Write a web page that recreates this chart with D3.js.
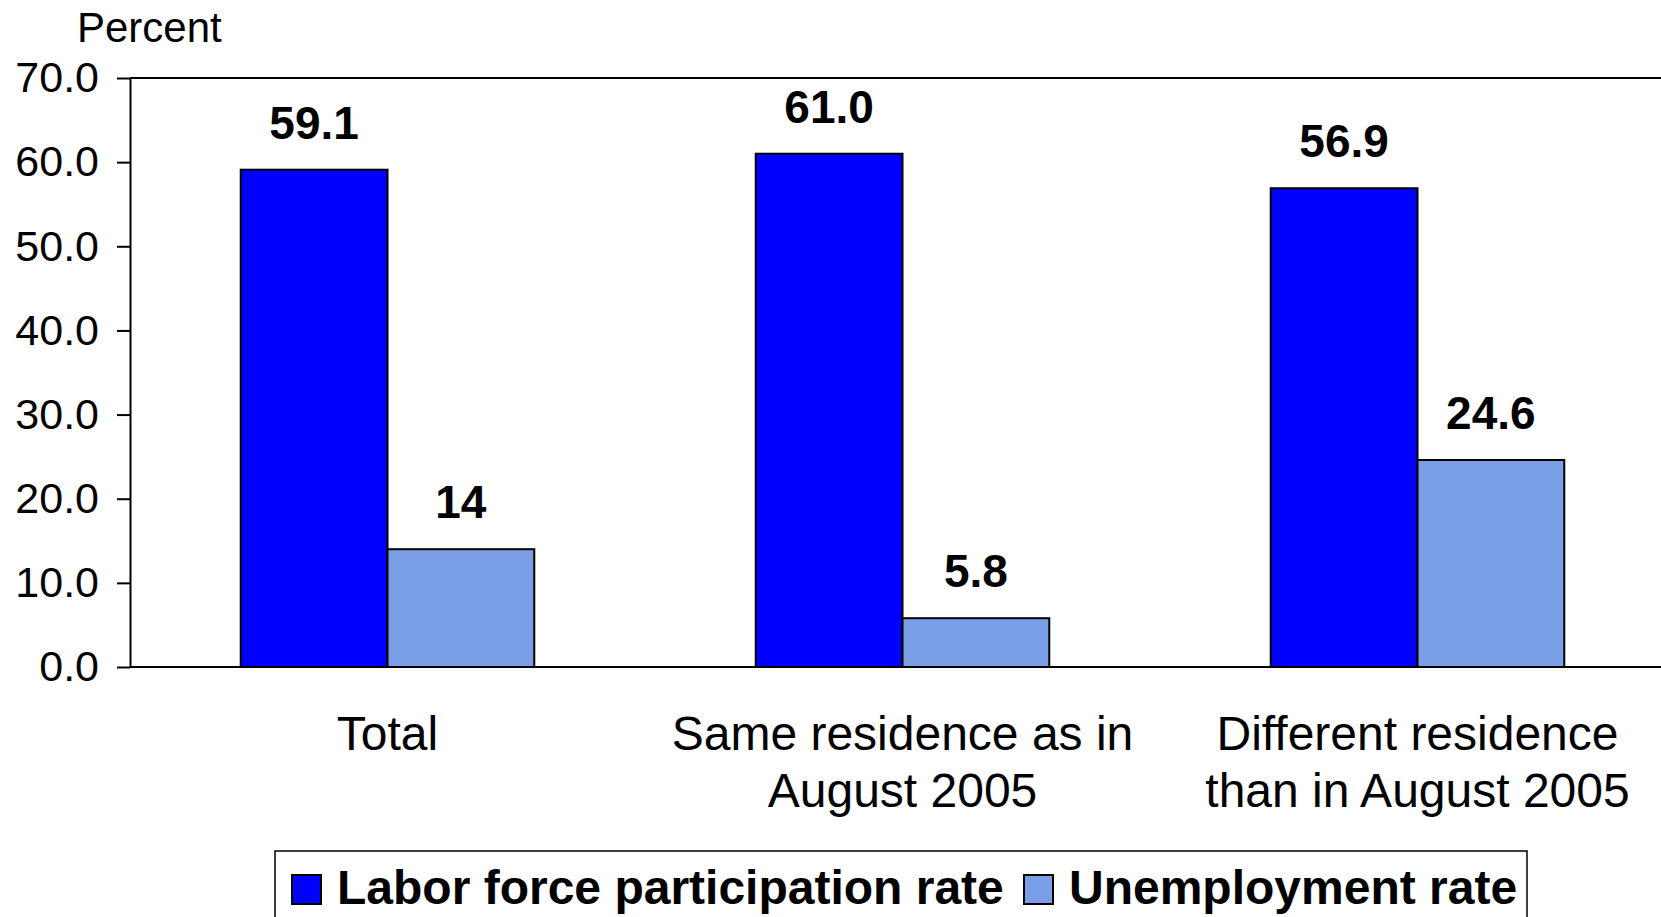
<script src="https://cdn.jsdelivr.net/npm/d3@7"></script>
<style>
  body { margin: 0; background: #fff; }
  text { font-family: "Liberation Sans", Arial, sans-serif; }
</style>
<div id="chart"></div>
<script>
// data
var categories = ["Total", "Same residence as in August 2005", "Different residence than in August 2005"];
var categoryLines = [["Total"], ["Same residence as in", "August 2005"], ["Different residence", "than in August 2005"]];
var seriesNames = ["Labor force participation rate", "Unemployment rate"];
var participation = [59.1, 61.0, 56.9];
var unemployment = [14, 5.8, 24.6];
var participationLabels = ["59.1", "61.0", "56.9"];
var unemploymentLabels = ["14", "5.8", "24.6"];
var yTicks = [0, 10, 20, 30, 40, 50, 60, 70];
var colors = ["#0000ff", "#7b9fe6"];

var width = 1661, height = 917;
var svg = d3.select("#chart").append("svg")
    .attr("width", width).attr("height", height);

var y = d3.scaleLinear().domain([0, 70]).range([667, 78]);
var x0 = d3.scaleBand().domain(categories).range([130, 1675])
    .paddingInner(0.43).paddingOuter(0.215);
var x1 = d3.scaleBand().domain(seriesNames).range([0, x0.bandwidth()]);

var rows = categories.map(function(c, i) {
    return {cat: c, vals: [
        {name: seriesNames[0], v: participation[i], label: participationLabels[i]},
        {name: seriesNames[1], v: unemployment[i], label: unemploymentLabels[i]}
    ]};
});

// plot frame lines (top border and zero line)
svg.append("line").attr("x1", 130).attr("x2", width)
    .attr("y1", y(70)).attr("y2", y(70))
    .attr("stroke", "#000").attr("stroke-width", 2);

// bars
var groups = svg.selectAll("g.grp").data(rows).enter().append("g")
    .attr("class", "grp")
    .attr("transform", function(d) { return "translate(" + x0(d.cat) + ",0)"; });

groups.selectAll("rect").data(function(d) { return d.vals; }).enter().append("rect")
    .attr("x", function(d) { return x1(d.name); })
    .attr("y", function(d) { return y(d.v); })
    .attr("width", x1.bandwidth())
    .attr("height", function(d) { return y(0) - y(d.v); })
    .attr("fill", function(d, i) { return colors[i]; })
    .attr("stroke", "#000").attr("stroke-width", 2);

groups.selectAll("text.val").data(function(d) { return d.vals; }).enter().append("text")
    .attr("class", "val")
    .attr("x", function(d) { return x1(d.name) + x1.bandwidth() / 2; })
    .attr("y", function(d) { return y(d.v) - 31; })
    .attr("text-anchor", "middle")
    .style("font-size", "46px").style("font-weight", "bold")
    .text(function(d) { return d.label; });

svg.append("line").attr("x1", 130).attr("x2", width)
    .attr("y1", y(0)).attr("y2", y(0))
    .attr("stroke", "#000").attr("stroke-width", 2);

// y axis
var yAxis = svg.append("g").attr("transform", "translate(130,0)")
    .call(d3.axisLeft(y).tickValues(yTicks).tickFormat(d3.format(".1f"))
        .tickSize(13).tickSizeOuter(0).tickPadding(18));
yAxis.select(".domain").attr("stroke", "#000").attr("stroke-width", 2);
yAxis.selectAll(".tick line").attr("stroke", "#000").attr("stroke-width", 2);
yAxis.selectAll(".tick text").attr("fill", "#000")
    .style("font-size", "43px").style("font-family", "'Liberation Sans', Arial, sans-serif");

svg.append("text").attr("x", 77).attr("y", 42)
    .style("font-size", "42px").text("Percent");

// category labels
svg.selectAll("text.cat").data(rows).enter().append("text")
    .attr("class", "cat")
    .attr("text-anchor", "middle")
    .style("font-size", "48px")
    .each(function(d, i) {
        var t = d3.select(this);
        categoryLines[i].forEach(function(line, j) {
            t.append("tspan")
                .attr("x", x0(d.cat) + x0.bandwidth() / 2)
                .attr("y", 750 + j * 57)
                .text(line);
        });
    });

// legend
var legend = svg.append("g");
legend.append("rect").attr("x", 275).attr("y", 851).attr("width", 1252).attr("height", 90)
    .attr("fill", "#fff").attr("stroke", "#000").attr("stroke-width", 1.5);
var legendX = [292, 1024];
seriesNames.forEach(function(name, i) {
    legend.append("rect").attr("x", legendX[i]).attr("y", 875)
        .attr("width", 29).attr("height", 29)
        .attr("fill", colors[i]).attr("stroke", "#000").attr("stroke-width", 2);
    legend.append("text").attr("x", legendX[i] + 45).attr("y", 904)
        .style("font-size", "48px").style("font-weight", "bold")
        .text(name);
});
</script>
